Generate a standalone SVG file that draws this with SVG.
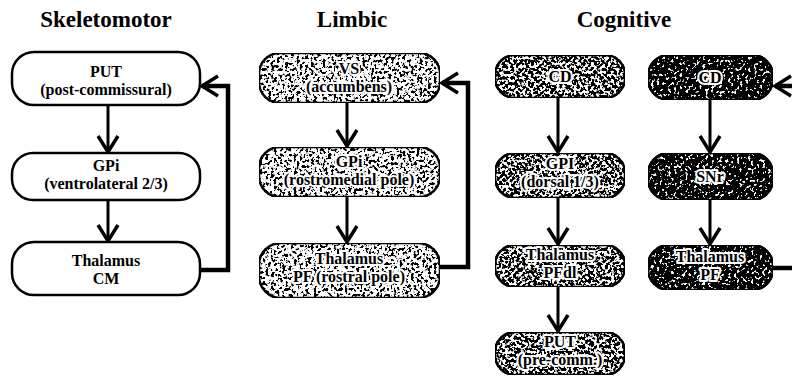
<svg xmlns="http://www.w3.org/2000/svg" width="792" height="383" viewBox="0 0 792 383">
<style>
.title{font-family:"Liberation Serif","Times New Roman",serif;font-weight:bold;font-size:23px;fill:#000;text-anchor:middle}
.lbl{font-family:"Liberation Serif","Times New Roman",serif;font-weight:bold;font-size:16px;fill:#000;text-anchor:middle}
.halo{stroke:#fff;stroke-width:4px;stroke-linejoin:round;paint-order:stroke}
.box{fill:#fff;stroke:#000;stroke-width:2.5}
.wire{fill:none;stroke:#000;stroke-width:3}
.fb{fill:none;stroke:#000;stroke-width:4.5}
</style>
<defs>
<marker id="ah" viewBox="-2 -12 22 24" markerWidth="22" markerHeight="24" refX="16" refY="0" orient="auto" markerUnits="userSpaceOnUse">
<path d="M0,-10 L16,0 L0,10" fill="none" stroke="#000" stroke-width="3.5"/>
</marker>
<filter id="spk1" x="0" y="0" width="1" height="1">
<feTurbulence type="fractalNoise" baseFrequency="0.35" numOctaves="2" seed="4" result="n"/>
<feColorMatrix in="n" type="matrix" values="0 0 0 0 0 0 0 0 0 0 0 0 0 0 0 -14 0 0 0 6.9" result="d"/>
<feComposite in="d" in2="SourceAlpha" operator="in" result="dc"/>
<feMerge><feMergeNode in="SourceGraphic"/><feMergeNode in="dc"/></feMerge>
</filter>
<filter id="spk2" x="0" y="0" width="1" height="1">
<feTurbulence type="fractalNoise" baseFrequency="0.35" numOctaves="2" seed="7" result="n"/>
<feColorMatrix in="n" type="matrix" values="0 0 0 0 0 0 0 0 0 0 0 0 0 0 0 -14 0 0 0 7.9" result="d"/>
<feComposite in="d" in2="SourceAlpha" operator="in" result="dc"/>
<feMerge><feMergeNode in="SourceGraphic"/><feMergeNode in="dc"/></feMerge>
</filter>
<filter id="spk3" x="0" y="0" width="1" height="1">
<feTurbulence type="fractalNoise" baseFrequency="0.35" numOctaves="2" seed="9" result="n"/>
<feColorMatrix in="n" type="matrix" values="0 0 0 0 0 0 0 0 0 0 0 0 0 0 0 -14 0 0 0 9.4" result="d"/>
<feComposite in="d" in2="SourceAlpha" operator="in" result="dc"/>
<feMerge><feMergeNode in="SourceGraphic"/><feMergeNode in="dc"/></feMerge>
</filter>
</defs>
<rect width="792" height="383" fill="#fff"/>

<g id="titles">
<text class="title" x="106" y="27">Skeletomotor</text>
<text class="title" x="352" y="27">Limbic</text>
<text class="title" x="624" y="27">Cognitive</text>
</g>

<g id="connectors">
<line class="wire" x1="108" y1="105" x2="108" y2="152" marker-end="url(#ah)"/>
<line class="wire" x1="108" y1="200" x2="108" y2="241" marker-end="url(#ah)"/>
<polyline class="fb" points="200,270 228,270 228,86 202,86" marker-end="url(#ah)"/>

<line class="wire" x1="347" y1="103" x2="347" y2="146" marker-end="url(#ah)"/>
<line class="wire" x1="347" y1="197" x2="347" y2="242" marker-end="url(#ah)"/>
<polyline class="fb" points="440,267 468,267 468,83 442,83" marker-end="url(#ah)"/>

<line class="wire" x1="558" y1="98" x2="558" y2="152" marker-end="url(#ah)"/>
<line class="wire" x1="558" y1="198" x2="558" y2="244" marker-end="url(#ah)"/>
<line class="wire" x1="558" y1="287" x2="558" y2="331" marker-end="url(#ah)"/>

<line class="wire" x1="710" y1="100" x2="710" y2="152" marker-end="url(#ah)"/>
<line class="wire" x1="710" y1="200" x2="710" y2="244" marker-end="url(#ah)"/>
<line class="fb" x1="773" y1="268" x2="795" y2="268"/>
<line class="fb" x1="800" y1="86" x2="775" y2="86" marker-end="url(#ah)"/>
</g>

<g id="sk-put">
<rect class="box" x="12" y="52" width="188" height="53" rx="22"/>
<text class="lbl" x="106" y="77">PUT</text>
<text class="lbl" x="106" y="95">(post-commissural)</text>
</g>
<g id="sk-gpi">
<rect class="box" x="12" y="153" width="188" height="47" rx="21"/>
<text class="lbl" x="106" y="171">GPi</text>
<text class="lbl" x="106" y="189">(ventrolateral 2/3)</text>
</g>
<g id="sk-thal">
<rect class="box" x="12" y="242" width="188" height="53" rx="22"/>
<text class="lbl" x="106" y="266">Thalamus</text>
<text class="lbl" x="106" y="284">CM</text>
</g>

<g id="lim-vs">
<rect class="box" x="259" y="53" width="181" height="50" rx="21" filter="url(#spk1)"/>
<text class="lbl halo" x="349" y="74">VS</text>
<text class="lbl halo" x="349" y="92">(accumbens)</text>
</g>
<g id="lim-gpi">
<rect class="box" x="259" y="147" width="181" height="50" rx="21" filter="url(#spk1)"/>
<text class="lbl halo" x="349" y="167">GPi</text>
<text class="lbl halo" x="349" y="185">(rostromedial pole)</text>
</g>
<g id="lim-thal">
<rect class="box" x="259" y="243" width="181" height="55" rx="22" filter="url(#spk1)"/>
<text class="lbl halo" x="349" y="264">Thalamus</text>
<text class="lbl halo" x="349" y="282">PF (rostral pole)</text>
</g>

<g id="cog-cd1">
<rect class="box" x="495" y="55" width="130" height="43" rx="20" filter="url(#spk2)"/>
<text class="lbl halo" x="560" y="82">CD</text>
</g>
<g id="cog-gpi">
<rect class="box" x="495" y="153" width="130" height="45" rx="20" filter="url(#spk2)"/>
<text class="lbl halo" x="560" y="169">GPI</text>
<text class="lbl halo" x="560" y="187">(dorsal 1/3)</text>
</g>
<g id="cog-thal1">
<rect class="box" x="495" y="245" width="130" height="42" rx="20" filter="url(#spk2)"/>
<text class="lbl halo" x="560" y="260">Thalamus</text>
<text class="lbl halo" x="560" y="278">PFdl</text>
</g>
<g id="cog-put">
<rect class="box" x="495" y="332" width="130" height="43" rx="20" filter="url(#spk2)"/>
<text class="lbl halo" x="560" y="347">PUT</text>
<text class="lbl halo" x="560" y="365">(pre-comm.)</text>
</g>

<g id="cog-cd2">
<rect class="box" x="648" y="55" width="125" height="45" rx="21" filter="url(#spk3)"/>
<text class="lbl halo" x="710" y="83">CD</text>
</g>
<g id="cog-snr">
<rect class="box" x="648" y="153" width="125" height="47" rx="21" filter="url(#spk3)"/>
<text class="lbl halo" x="710" y="182">SNr</text>
</g>
<g id="cog-thal2">
<rect class="box" x="648" y="245" width="125" height="45" rx="21" filter="url(#spk3)"/>
<text class="lbl halo" x="710" y="262">Thalamus</text>
<text class="lbl halo" x="710" y="280">PF</text>
</g>
</svg>
